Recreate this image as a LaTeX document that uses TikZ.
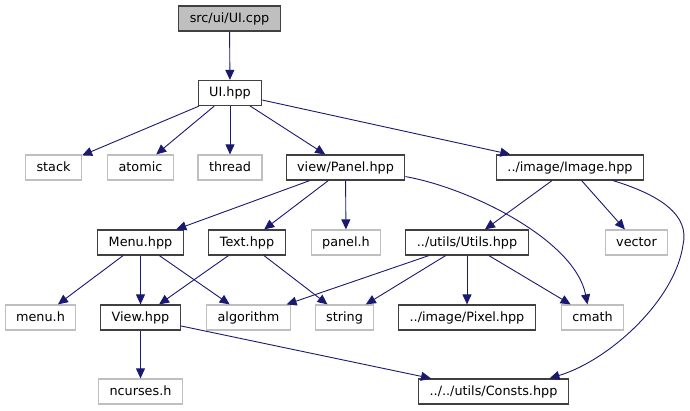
\documentclass[tikz,border=0pt]{standalone}
\usepackage{fontspec}
\setmainfont{DejaVu Sans}
\usetikzlibrary{arrows.meta}
\definecolor{edgeblue}{HTML}{191970}
\definecolor{sysgray}{HTML}{BFBFBF}
\definecolor{filedark}{HTML}{404040}

\begin{document}
\begin{tikzpicture}[x=1pt,y=-1pt,
    file/.style={draw=filedark,line width=1.2pt,fill=white,inner xsep=11pt,inner ysep=0pt,
      minimum height=25pt,text height=9pt,text depth=1pt,font=\fontsize{12.8}{15}\selectfont},
    sysfile/.style={file,draw=sysgray},
    incl/.style={draw=edgeblue,line width=0.9pt,-{Triangle[length=10pt,width=9pt]}}]
    \useasboundingbox (0,0) rectangle (690,411);
    % Files
    \node[file,fill=sysgray] (uicpp) at (229.5,18.5) {src/ui/UI.cpp};
    \node[file] (uihpp) at (230,93) {UI.hpp};
    \node[sysfile] (stack) at (53.5,167.5) {stack};
    \node[sysfile] (atomic) at (140.5,167.5) {atomic};
    \node[sysfile] (thread) at (230,167.5) {thread};
    \node[file] (panel) at (345.5,167.5) {view/Panel.hpp};
    \node[file] (image) at (570,167.5) {../image/Image.hpp};
    \node[file] (menu) at (140.5,242.5) {Menu.hpp};
    \node[file] (text) at (247,242.5) {Text.hpp};
    \node[sysfile] (panelh) at (346,242.5) {panel.h};
    \node[file] (utils) at (467,242.5) {../utils/Utils.hpp};
    \node[sysfile] (vector) at (636.5,242.5) {vector};
    \node[sysfile] (menuh) at (40.5,317.5) {menu.h};
    \node[file] (view) at (140.5,317.5) {View.hpp};
    \node[sysfile] (algorithm) at (248.5,317.5) {algorithm};
    \node[sysfile] (string) at (344.5,317.5) {string};
    \node[file] (pixel) at (467,317.5) {../image/Pixel.hpp};
    \node[sysfile] (cmath) at (592.5,317.5) {cmath};
    \node[sysfile] (ncurses) at (140.5,391.5) {ncurses.h};
    \node[file] (consts) at (493.5,391.5) {../../utils/Consts.hpp};
    % Includes
    \draw[incl] (uicpp) -- (uihpp);
    \draw[incl] (uihpp) -- (stack);
    \draw[incl] (uihpp) -- (atomic);
    \draw[incl] (uihpp) -- (thread);
    \draw[incl] (uihpp) -- (panel);
    \draw[incl] (uihpp) -- (image);
    \draw[incl] (panel) -- (menu);
    \draw[incl] (panel) -- (text);
    \draw[incl] (panel) -- (panelh);
    \draw[incl] ([yshift=4pt]panel.south east) .. controls (470,188) and (575,240) .. ([xshift=-5pt]cmath.north);
    \draw[incl] (image) -- (utils);
    \draw[incl] (image) -- (vector);
    \draw[incl] ([xshift=43pt]image.south) .. controls (660,195) and (690,215) .. (683,245)
      .. controls (675,300) and (610,360) .. ([xshift=56pt]consts.north);
    \draw[incl] (menu) -- (menuh);
    \draw[incl] (menu) -- (view);
    \draw[incl] (menu) -- (algorithm);
    \draw[incl] (text) -- (view);
    \draw[incl] (text) -- (string);
    \draw[incl] (utils) -- (algorithm);
    \draw[incl] (utils) -- (string);
    \draw[incl] (utils) -- (pixel);
    \draw[incl] (utils) -- (cmath);
    \draw[incl] (view) -- (ncurses);
    \draw[incl] (view) -- (consts);
\end{tikzpicture}
\end{document}
